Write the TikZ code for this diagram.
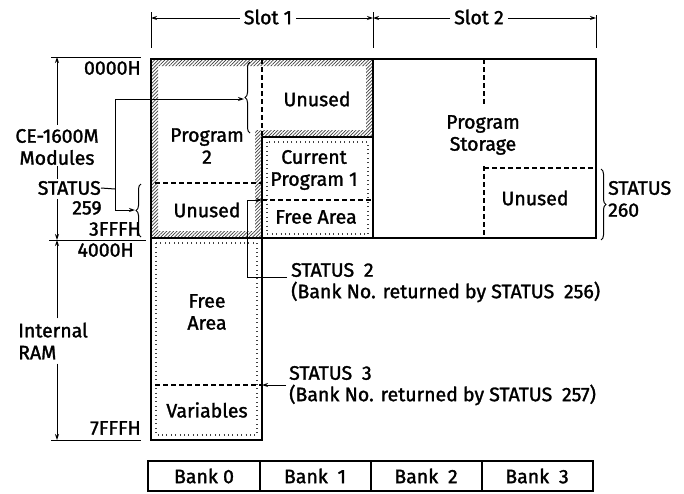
\documentclass[tikz,border=0pt]{standalone}
\usepackage{fontspec}
\setmainfont{Fira Sans}[FakeBold=1.5]
\usetikzlibrary{patterns.meta,decorations.pathreplacing,arrows.meta}
\begin{document}
\begin{tikzpicture}[x=1pt,y=-1pt,
  lbl/.style={font=\fontsize{19.5}{22}\selectfont, inner sep=0pt, align=center},
  lblL/.style={lbl, anchor=west, align=left},
  lblR/.style={lbl, anchor=east, align=right},
  thickln/.style={line width=2.4pt},
  medln/.style={line width=1.3pt},
  thinln/.style={line width=1pt},
  dashln/.style={line width=1.1pt, dash pattern=on 5pt off 3pt},
  stip/.style={line width=1.2pt, dash pattern=on 0.9pt off 3.5pt, black!75},
  arr/.style={-{Stealth[length=6pt,width=4pt]}, line width=1pt},
  brc/.style={decorate, decoration={brace, amplitude=5pt}, line width=1pt}
]
\useasboundingbox (0,0) rectangle (684,493);
\fill[white] (0,0) rectangle (684,493);

% hatched frame of slot 1 module area
\fill[pattern={Lines[angle=45,distance=2.4pt,line width=0.7pt]}, pattern color=black!75, even odd rule]
  (151,59) -- (373,59) -- (373,137) -- (262,137) -- (262,238) -- (151,238) -- cycle
  (158,66) -- (366,66) -- (366,130) -- (255,130) -- (255,231) -- (158,231) -- cycle;

% stippled borders
\draw[stip] (267,142) -- (267,234) -- (368,234) -- (368,142) -- cycle;
\draw[stip] (156,243) rectangle (257,435);

% outlines
\draw[thickln] (151,59) rectangle (373,238);
\draw[thickln] (373,59) rectangle (596,238);
\draw[thickln] (151,238) -- (151,440) -- (262,440) -- (262,137);
\draw[medln] (262,137) -- (373,137);

% dashed dividers
\draw[dashln] (262,59) -- (262,137);
\draw[dashln] (155,183) -- (262,183);
\draw[dashln] (262,200) -- (373,200);
\draw[dashln] (155,385) -- (262,385);
\draw[dashln] (484,59) -- (484,106);
\draw[dashln] (484,166) -- (484,238);
\draw[dashln] (484,168) -- (596,168);

% slot dimension lines
\coordinate (s1l) at (151,18);
\coordinate (s1r) at (373,18);
\coordinate (s2r) at (596,18);
\draw[thinln] (151,12) -- (151,48);
\draw[thinln] (373,12) -- (373,48);
\draw[thinln] (596,15) -- (596,48);
\node[lbl] (slot1) at (268,17) {Slot 1};
\node[lbl] (slot2) at (479,17) {Slot 2};
\draw[arr] (slot1.west) ++(-4,1) -- (s1l);
\draw[arr] (slot1.east) ++(4,1) -- (s1r);
\draw[arr] (slot2.west) ++(-4,1) -- (s1r);
\draw[arr] (slot2.east) ++(4,1) -- (s2r);

% left address ticks
\draw[thinln] (51,57) -- (141,57);
\draw[thinln] (49,240) -- (146,240);
\draw[thinln] (51,440) -- (141,440);
\node[lblR] (a0000) at (141,68) {0000H};
\node[lblR] (a3fff) at (141,229) {3FFFH};
\node[lblR] (a4000) at (134,250) {4000H};
\node[lblR] (a7fff) at (141,428) {7FFFH};

\node[lbl] (ce) at (57,147) {CE-1600M\\Modules};
\node[lblL] (iram) at (18,341) {Internal\\RAM};
\coordinate (t0) at (57,57);
\coordinate (t1) at (57,240);
\coordinate (t2) at (57,440);
\draw[arr] (ce.north) ++(0,-4) -- (t0);
\draw[thinln] (57,166) -- (57,179);
\draw[arr] (57,199) -- (t1);
\draw[arr] (iram.north -| 57,0) ++(0,-4) -- (t1);
\draw[arr] (iram.south -| 57,0) ++(0,4) -- (t2);

% status 259
\node[lblR] (st259) at (101,188) {STATUS};
\node[lbl] (n259) at (87,208) {259};
\draw[brc] (250,133) -- (250,62);
\draw[brc] (141,237) -- (141,184);
\coordinate (b1tip) at (244,99);
\coordinate (b2tip) at (135,210);
\draw[thinln] (st259.east) -- (115,189);
\draw[thinln] (115,99) -- (115,210);
\draw[arr] (115,99) -- (b1tip);
\draw[arr] (115,210) -- (b2tip);

% status 260
\draw[brc] (601,169) -- (601,240);
\node[lblL] (st260) at (608,199) {STATUS\\260};

% status 2
\node[lblL] (st2) at (291,270) {STATUS\enspace 2};
\node[lblL] (st2b) at (291,292) {(Bank No. returned by STATUS\enspace 256)};
\coordinate (fa) at (262,200);
\draw[arr] (287,277) -- (247,277) -- (247,200) -- (fa);

% status 3
\node[lblL] (st3) at (289,373) {STATUS\enspace 3};
\node[lblL] (st3b) at (289,395) {(Bank No. returned by STATUS\enspace 257)};
\coordinate (va) at (262,385);
\draw[arr] (286,385) -- (va);

% labels in boxes
\node[lbl] (prog2) at (207,146) {Program\\2};
\node[lbl] (unused0) at (207,210) {Unused};
\node[lbl] (unused1) at (317,99) {Unused};
\node[lbl] (curprog) at (314,170) {Current\\Program 1};
\node[lbl] (free1) at (316,217) {Free Area};
\node[lbl] (pstore) at (483,135) {Program\\Storage};
\node[lbl] (unused3) at (535,198) {Unused};
\node[lbl] (free0) at (207,312) {Free\\Area};
\node[lbl] (vars) at (207,410) {Variables};

% bank row
\draw[medln] (148,461) rectangle (593,491);
\draw[medln] (260,461) -- (260,491);
\draw[medln] (371,461) -- (371,491);
\draw[medln] (482,461) -- (482,491);
\node[lbl] (bk0) at (204,476) {Bank 0};
\node[lbl] (bk1) at (315,476) {Bank\enspace 1};
\node[lbl] (bk2) at (426,476) {Bank\enspace 2};
\node[lbl] (bk3) at (537,476) {Bank\enspace 3};
\end{tikzpicture}
\end{document}
